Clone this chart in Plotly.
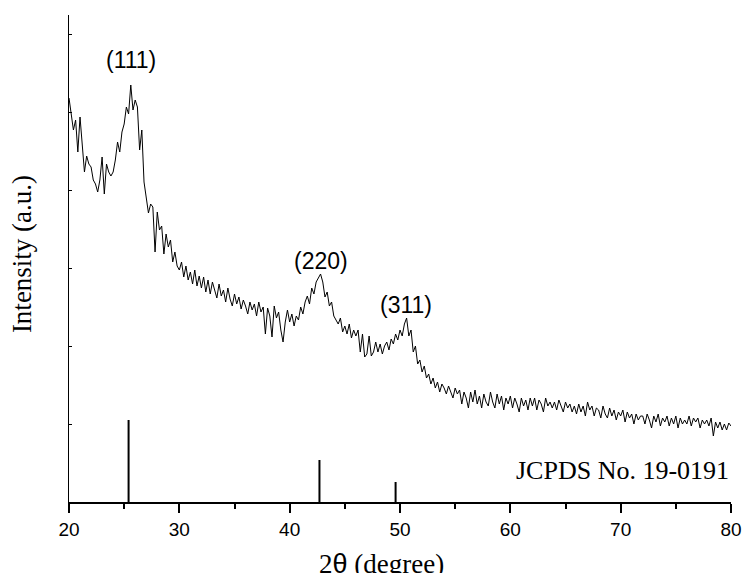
import plotly.graph_objects as go

# ---- data ----
theta_start = 20.0
theta_step = 0.2
intensity = [
    404, 388, 372, 382, 350, 385, 352, 330, 346, 338,
    335, 322, 318, 310, 322, 345, 308, 338, 330, 326,
    330, 342, 360, 350, 370, 378, 395, 388, 417, 392,
    402, 395, 352, 372, 320, 302, 289, 298, 295, 250,
    290, 272, 276, 248, 268, 255, 262, 240, 250, 236,
    232, 240, 225, 236, 222, 230, 218, 232, 216, 226,
    214, 225, 210, 222, 208, 220, 212, 204, 218, 206,
    212, 200, 214, 203, 196, 208, 198, 205, 193, 202,
    196, 188, 200, 192, 198, 186, 200, 190, 195, 168,
    194, 186, 165, 196, 184, 190, 172, 160, 180, 192,
    180, 188, 176, 186, 182, 195, 188, 200, 206, 198,
    214, 208, 220, 224, 228, 220, 205, 210, 196, 200,
    186, 182, 178, 184, 170, 176, 168, 178, 164, 172,
    166, 172, 150, 168, 145, 148, 166, 146, 150, 160,
    150, 158, 148, 156, 160, 152, 163, 158, 168, 162,
    172, 166, 178, 184, 166, 172, 150, 156, 138, 142,
    130, 136, 124, 128, 118, 124, 114, 120, 110, 118,
    114, 108, 116, 110, 104, 114, 108, 112, 98, 110,
    104, 94, 110, 100, 112, 98, 106, 94, 108, 100,
    96, 110, 100, 94, 108, 98, 106, 92, 104, 98,
    106, 94, 104, 98, 90, 104, 96, 102, 92, 104,
    96, 104, 92, 102, 98, 90, 104, 96, 100, 94,
    100, 92, 102, 96, 90, 100, 94, 98, 90, 96,
    88, 98, 90, 96, 86, 100, 92, 96, 86, 94,
    92, 84, 96, 88, 84, 94, 86, 92, 82, 90,
    86, 92, 80, 90, 84, 88, 78, 88, 82, 86,
    86, 78, 88, 82, 74, 86, 80, 88, 76, 84,
    80, 86, 76, 84, 78, 86, 74, 84, 78, 82,
    78, 86, 76, 84, 80, 84, 74, 82, 78, 82,
    76, 84, 66, 80, 74, 80, 72, 78, 72, 79,
    76,
]
two_theta = [round(theta_start + i * theta_step, 1) for i in range(len(intensity))]

ref_positions = [25.4, 42.7, 49.6]
ref_heights = [82, 42, 20]
peak_labels = ["(111)", "(220)", "(311)"]
peak_label_x = [25.6, 42.8, 50.5]
peak_label_y = [442, 241, 197]

x_ticks = [20, 30, 40, 50, 60, 70, 80]
y_ticks = [78, 156, 234, 312, 390, 468]

# ---- figure ----
stick_x, stick_y = [], []
for p, h in zip(ref_positions, ref_heights):
    stick_x += [p, p, None]
    stick_y += [0, h, None]

fig = go.Figure()
fig.add_trace(go.Scatter(x=two_theta, y=intensity, mode="lines",
                         line=dict(color="black", width=1), showlegend=False))
fig.add_trace(go.Scatter(x=stick_x, y=stick_y, mode="lines",
                         line=dict(color="black", width=2), showlegend=False))

for t, xx, yy in zip(peak_labels, peak_label_x, peak_label_y):
    fig.add_annotation(x=xx, y=yy, text=t, showarrow=False,
                       font=dict(family="Liberation Sans, Arial", size=23, color="black"),
                       xanchor="center", yanchor="middle")

fig.add_annotation(x=80, y=32, text="JCPDS No. 19-0191", showarrow=False,
                   font=dict(family="Liberation Serif, Times New Roman", size=26, color="black"),
                   xanchor="right", yanchor="middle")

fig.add_annotation(xref="paper", yref="paper", x=0.472, y=0, yshift=-62,
                   text="2<span style='font-family:Liberation Sans'>θ</span> (degree)",
                   showarrow=False,
                   font=dict(family="Liberation Serif, Times New Roman", size=27, color="black"),
                   xanchor="center", yanchor="middle")
fig.add_annotation(xref="paper", yref="paper", x=0, y=0.509, xshift=-47,
                   text="Intensity (a.u.)", textangle=-90, showarrow=False,
                   font=dict(family="Liberation Serif, Times New Roman", size=27, color="black"),
                   xanchor="center", yanchor="middle")

fig.update_xaxes(range=[20, 80], tickvals=x_ticks, ticks="outside", ticklen=9,
                 tickwidth=2, tickcolor="black", showline=True, linewidth=2,
                 linecolor="black", showgrid=False, zeroline=False, automargin=False,
                 tickfont=dict(family="Liberation Sans, Arial", size=19, color="black"),
                 minor=dict(dtick=5, tick0=25, ticks="outside", ticklen=5,
                            tickwidth=2, tickcolor="black", showgrid=False))
fig.update_yaxes(range=[0, 487], tickvals=y_ticks, ticks="inside", ticklen=3,
                 tickwidth=1, tickcolor="black", showline=True, linewidth=1,
                 linecolor="black", showgrid=False, zeroline=False, automargin=False,
                 showticklabels=False)

fig.update_layout(width=743, height=573, margin=dict(l=69, r=12, t=15, b=71),
                  plot_bgcolor="white", paper_bgcolor="white")

fig.write_html("out.html", config={"displayModeBar": False},
               post_script="document.body.style.margin='0';document.body.style.overflow='hidden';")
